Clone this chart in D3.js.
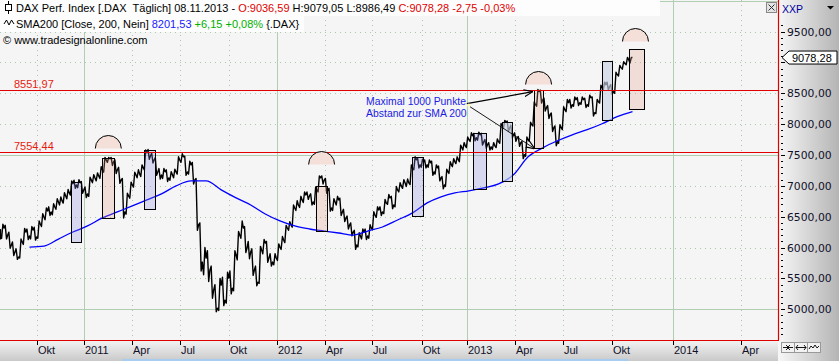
<!DOCTYPE html>
<html><head><meta charset="utf-8">
<script src="https://cdn.jsdelivr.net/npm/d3@7"></script>
<style>
html,body{margin:0;padding:0;background:#f5f5f5;overflow:hidden}
svg{display:block}
</style></head><body>
<svg id="c" width="839" height="361"></svg>
<script>
// ---------------- DATA ----------------
const firstWeek = "2010-07-23";           // weekly bars start (Fridays)
const closeValues = [
6203,6317,6203,6041,5927,5846,6090,6252,6187,6285,
6171,6382,6496,6593,6577,6658,6739,6756,6837,6885,
7032,7015,7048,6934,6869,7096,7129,7161,7259,7421,
7438,7389,7259,7096,6577,6837,7015,7178,7194,7291,
7535,7486,7421,7226,7178,7226,7129,7178,7226,7421,
7470,7226,7340,7096,6366,5765,5830,5635,5310,5018,
5391,5148,5505,5343,5879,6203,6317,5992,5927,5635,
5440,5960,6073,5830,5765,5830,6008,6122,6317,6366,
6642,6690,6772,6853,6837,6739,6934,7129,7096,6934,
6642,6739,6772,6577,6479,6366,6252,6041,6187,6252,
6187,6317,6528,6609,6577,6723,6804,6690,6934,6999,
7048,7048,7291,7421,7340,7389,7340,7373,7226,7291,
7129,7015,7226,7340,7389,7421,7616,7649,7746,7811,
7779,7827,7714,7665,7632,7649,7714,7973,8038,7941,
7827,7779,7697,7503,7746,7990,8315,8526,8396,8266,
8152,7941,7714,7941,8233,8347,8315,8396,8347,8396,
8315,8428,8185,8363,8591,8639,8607,8526,8802,8915,
8980,9045,9078.28
];
const highValues = [
6290,6380,6360,6250,6090,5980,6140,6310,6300,6340,
6330,6430,6550,6640,6660,6710,6790,6820,6890,6940,
7080,7090,7100,7070,6980,7140,7180,7210,7310,7460,
7460,7460,7420,7300,7120,6880,7060,7220,7260,7340,
7580,7590,7530,7460,7280,7280,7260,7230,7270,7470,
7520,7480,7400,7380,7120,6400,6000,5950,5700,5400,
5500,5520,5600,5620,5950,6260,6430,6340,6100,5980,
5700,6020,6130,6100,5900,5900,6060,6180,6360,6420,
6690,6760,6830,6900,6900,6870,6980,7160,7160,7120,
6960,6790,6830,6800,6620,6510,6400,6280,6240,6300,
6300,6370,6580,6660,6660,6780,6860,6830,6990,7050,
7100,7110,7340,7470,7450,7430,7420,7420,7400,7340,
7320,7150,7270,7390,7440,7470,7660,7700,7790,7860,
7850,7870,7850,7750,7700,7700,7760,8010,8060,8050,
7980,7860,7800,7720,7790,8030,8360,8560,8550,8420,
8300,8180,7970,7990,8280,8400,8400,8440,8430,8440,
8420,8470,8440,8400,8630,8680,8680,8640,8840,8950,
9010,9080,9079.05
];
const lowValues = [
6130,6150,6140,5990,5870,5810,5830,6050,6130,6140,
6120,6150,6340,6450,6520,6530,6620,6690,6720,6790,
6850,6960,6970,6880,6810,6830,7050,7080,7120,7220,
7380,7330,7200,7040,6480,6540,6800,6980,7130,7150,
7260,7430,7370,7170,7110,7120,7070,7090,7130,7190,
7380,7170,7190,7030,6280,5620,5560,5450,5180,4960,
4980,5060,5100,5250,5300,5800,6150,5920,5820,5550,
5380,5420,5900,5760,5700,5720,5790,5970,6080,6280,
6330,6600,6650,6730,6780,6690,6700,6900,7030,6880,
6590,6600,6690,6520,6420,6300,6190,5970,6010,6140,
6130,6150,6290,6490,6520,6550,6700,6630,6660,6900,
6960,6990,7020,7260,7290,7300,7290,7300,7170,7190,
7080,6950,6990,7200,7310,7360,7390,7580,7620,7720,
7730,7740,7660,7610,7580,7590,7620,7690,7940,7880,
7770,7720,7640,7440,7480,7720,7970,8290,8340,8210,
8090,7880,7650,7690,7910,8200,8260,8290,8300,8320,
8270,8290,8130,8170,8340,8560,8550,8480,8500,8780,
8890,8960,8986.49
];
const smaFirstWeek = 8, smaStepWeeks = 4;   // SMA200 sampled every 4 weeks
const smaValues = [
6008,6025,6138,6252,6350,6480,6577,6674,6772,6869,
6999,7080,7080,6934,6804,6690,6544,6431,6350,6301,
6268,6236,6203,6268,6333,6447,6561,6723,6821,6885,
6918,6967,7032,7178,7470,7616,7730,7827,7909,8006,
8120,8201.53
];
const boxStart  = ["2010-12-07","2011-02-04","2011-04-23","2012-03-14","2012-09-13","2013-01-12","2013-03-07","2013-05-07","2013-09-13","2013-11-02"];
const boxEnd    = ["2010-12-26","2011-02-25","2011-05-14","2012-04-04","2012-10-04","2013-02-05","2013-03-26","2013-05-24","2013-10-01","2013-11-23"];
const boxTop    = [7064,7454,7584,6994,7470,7860,8038,8558,9029,9224];
const boxBottom = [6090,6479,6625,6268,6512,6950,7080,7616,8071,8250];
const boxType   = ["lav","pink","lav","pink","lav","lav","grey","pink","grey","pink"];
const arcCenter = ["2011-02-15","2012-03-25","2013-05-16","2013-11-12"];
const arcBase   = [7616,7356,8656,9354];
const levelValues = [8551.97, 7554.44];
const levelLabels = ["8551,97", "7554,44"];
const yTicks = [5000,5500,6000,6500,7000,7500,8000,8500,9000,9500];
const xTickDates  = ["2010-10-01","2011-01-01","2011-04-01","2011-07-01","2011-10-01","2012-01-01","2012-04-01","2012-07-01","2012-10-01","2013-01-01","2013-04-01","2013-07-01","2013-10-01","2014-01-01","2014-04-01"];
const xTickLabels = ["Okt","2011","Apr","Jul","Okt","2012","Apr","Jul","Okt","2013","Apr","Jul","Okt","2014","Apr"];
const lastDate = "2013-11-08", lastClose = 9078.28;
const noteLines = ["Maximal 1000 Punkte", "Abstand zur SMA 200"];
const noteAnchor = ["2012-06-19", 8315];
const arrowFrom = [["2012-12-31", 8331], ["2013-01-06", 8282]];
const arrowTo   = [["2013-05-05", 8526], ["2013-05-09", 7600]];

// ---------------- SETUP ----------------
const W = 839, H = 361, PR = 778, PB = 340;
const P = d3.utcParse("%Y-%m-%d");
const svg = d3.select("#c");
const loc = d3.formatLocale({decimal:",", thousands:"", grouping:[3], currency:["",""]});
const f2 = loc.format(".2f");
const hf = "Liberation Sans, Arial, sans-serif";

const x = d3.scaleUtc()
  .domain([...xTickDates.slice(0,13), lastDate, ...xTickDates.slice(13)].map(P))
  .range([36.7,84.3,132.3,179.7,229.3,277.3,325.3,372.3,421.7,467.3,515,562.7,611.7,632.5,672.7,740.7]);
const y = d3.scaleLinear().domain([5000, 9500]).range([309.3, 31.5]);

const weekDate = i => d3.utcDay.offset(P(firstWeek), 7 * i);
const smaData = smaValues.map((v, i) => ({d: weekDate(smaFirstWeek + i * smaStepWeeks), v}));

// price path: within each week pass through the week's two extremes, then the close
const pricePts = [];
closeValues.forEach((c, i) => {
  const xi = x(weekDate(i));
  const prev = i ? closeValues[i - 1] : c;
  const first = c >= prev ? lowValues[i] : highValues[i];
  const second = c >= prev ? highValues[i] : lowValues[i];
  if (i) { pricePts.push([xi - 2.5, y(first)]); pricePts.push([xi - 1.2, y(second)]); }
  else { pricePts.push([xi, y(first)]); pricePts.push([xi, y(second)]); }
  pricePts.push([xi, y(c)]);
});

const defs = svg.append("defs");
const g1 = defs.append("linearGradient").attr("id","gr").attr("x1",0).attr("x2",1).attr("y1",0).attr("y2",0);
g1.append("stop").attr("offset","0").attr("stop-color","#f7f7f7");
g1.append("stop").attr("offset","1").attr("stop-color","#b4b4b4");
const g2 = defs.append("linearGradient").attr("id","gb").attr("x1",0).attr("x2",0).attr("y1",0).attr("y2",1);
g2.append("stop").attr("offset","0").attr("stop-color","#f4f4f4");
g2.append("stop").attr("offset","1").attr("stop-color","#c9c9c9");
defs.append("clipPath").attr("id","clip").append("rect").attr("x",0).attr("y",0).attr("width",PR).attr("height",PB);
const mk = defs.append("marker").attr("id","arr").attr("viewBox","0 0 10 10").attr("refX",10).attr("refY",5)
  .attr("markerWidth",9).attr("markerHeight",9).attr("markerUnits","userSpaceOnUse").attr("orient","auto");
mk.append("path").attr("d","M0,1 L10,5 L0,9").attr("fill","none").attr("stroke","#000").attr("stroke-width",1.3);

svg.append("rect").attr("width",W).attr("height",H).attr("fill","#f5f5f5");
const plot = svg.append("g").attr("clip-path","url(#clip)");

// grid
const yearTick = d => d.getUTCMonth() === 0;
xTickDates.map(P).forEach(d => {
  const xx = Math.round(x(d)) + 0.5;
  plot.append("line").attr("x1",xx).attr("x2",xx).attr("y1",0).attr("y2",PB)
    .attr("stroke", yearTick(d) ? "#b2ceb2" : "#adc6ad")
    .attr("stroke-dasharray", yearTick(d) ? null : "1,4");
});
d3.range(4500, 10001, 500).forEach(v => {
  const yy = Math.round(y(v)) + 0.5;
  const solid = v % 2500 === 0;
  plot.append("line").attr("x1",0).attr("x2",PR).attr("y1",yy).attr("y2",yy)
    .attr("stroke", solid ? "#b2ceb2" : "#adc6ad")
    .attr("stroke-dasharray", solid ? null : "1,4");
});

// price
plot.append("path").datum(pricePts)
  .attr("d", d3.line())
  .attr("fill","none").attr("stroke","#000").attr("stroke-width",1.4).attr("stroke-linejoin","round");
// sma
plot.append("path").datum(smaData)
  .attr("d", d3.line().curve(d3.curveMonotoneX).x(d => x(d.d)).y(d => y(d.v)))
  .attr("fill","none").attr("stroke","#0000ff").attr("stroke-width",1.3);

// boxes
const boxFill = {lav:["#8a8ae6",0.27], pink:["#e6977f",0.25], grey:["#c8d2e4",0.65]};
boxStart.forEach((s, i) => {
  const x0 = Math.round(x(P(s))) + 0.5, x1 = Math.round(x(P(boxEnd[i]))) + 0.5;
  const y0 = Math.round(y(boxTop[i])) + 0.5, y1 = Math.round(y(boxBottom[i])) + 0.5;
  plot.append("rect").attr("x",x0).attr("y",y0).attr("width",x1-x0).attr("height",y1-y0)
    .attr("fill",boxFill[boxType[i]][0]).attr("fill-opacity",boxFill[boxType[i]][1])
    .attr("stroke","#000").attr("stroke-width",1);
});

// level lines
levelValues.forEach((v, i) => {
  const yy = Math.round(y(v)) + 0.5;
  plot.append("line").attr("x1",0).attr("x2",PR).attr("y1",yy).attr("y2",yy).attr("stroke","#e00000").attr("stroke-width",1.2);
  plot.append("text").attr("x",14).attr("y",yy-3).text(levelLabels[i])
    .attr("font-family",hf).attr("font-size",11).attr("fill","#e81a10");
});

// arcs
const R = 13;
arcCenter.forEach((c, i) => {
  const cx = x(P(c)), by = Math.round(y(arcBase[i])) + 0.5;
  plot.append("path").attr("d",`M${cx-R},${by} A${R},${R} 0 0 1 ${cx+R},${by} Z`).attr("fill","#f5e0d9");
  plot.append("path").attr("d",`M${cx-R},${by} A${R},${R} 0 0 1 ${cx+R},${by}`).attr("fill","none").attr("stroke","#000").attr("stroke-width",1);
});

// annotation
arrowFrom.forEach((a, i) => {
  plot.append("line").attr("x1",x(P(a[0]))).attr("y1",y(a[1]))
    .attr("x2",x(P(arrowTo[i][0]))).attr("y2",y(arrowTo[i][1]))
    .attr("stroke","#000").attr("stroke-width", i === 0 ? 1.2 : 0.9).attr("marker-end","url(#arr)");
});
plot.append("circle").attr("cx",x(P(arrowFrom[0][0]))+2).attr("cy",y(arrowFrom[0][1])+1.5).attr("r",1.6).attr("fill","#fffbb0");
noteLines.forEach((t, i) => {
  plot.append("text").attr("x",x(P(noteAnchor[0]))).attr("y",y(noteAnchor[1]) + i*12.5).text(t)
    .attr("font-family",hf).attr("font-size",10.4).attr("fill","#1a1ae6");
});

// header
const hdr = svg.append("g").attr("font-family",hf).attr("font-size",11);
hdr.append("rect").attr("x",0).attr("y",0).attr("width",660).attr("height",16).attr("fill","#fdfdfd");
hdr.append("rect").attr("x",0).attr("y",16).attr("width",304).attr("height",16).attr("fill","#fdfdfd");
hdr.append("line").attr("x1",8.5).attr("x2",8.5).attr("y1",1).attr("y2",14).attr("stroke","#000");
hdr.append("rect").attr("x",5.5).attr("y",4.5).attr("width",6).attr("height",6).attr("fill","#fff").attr("stroke","#000");
const t1 = hdr.append("text").attr("x",16).attr("y",12);
[["DAX Perf. Index [.DAX  Täglich] 08.11.2013 - ","#000"],["O:9036,59","#e00000"],[" H:9079,05 L:8986,49 ","#000"],["C:9078,28 -2,75 -0,03%","#e00000"]]
  .forEach(p => t1.append("tspan").attr("fill",p[1]).attr("xml:space","preserve").text(p[0]));
hdr.append("path").attr("d","M4,24 L6.5,20 L9,25 L11.5,20 L14,24").attr("fill","none").attr("stroke","#000").attr("stroke-width",1);
const t2 = hdr.append("text").attr("x",16).attr("y",28);
[["SMA200 [Close, 200, Nein] ","#000"],["8201,53","#1a1aff"],[" +6,15 +0,08%","#00b000"],[" {.DAX}","#000"]]
  .forEach(p => t2.append("tspan").attr("fill",p[1]).text(p[0]));
hdr.append("text").attr("x",3).attr("y",44).text("© www.tradesignalonline.com").attr("fill","#000");

// panels
svg.append("rect").attr("x",PR).attr("y",0).attr("width",W-PR).attr("height",H).attr("fill","url(#gr)");
svg.append("rect").attr("x",0).attr("y",PB).attr("width",PR).attr("height",H-PB).attr("fill","url(#gb)");
svg.append("rect").attr("x",122).attr("y",359).attr("width",506).attr("height",2).attr("fill","#a6cdf0");
svg.append("line").attr("x1",PR+0.5).attr("x2",PR+0.5).attr("y1",0).attr("y2",PB).attr("stroke","#e00000").attr("stroke-width",1.2);
svg.append("line").attr("x1",0).attr("x2",PR+1).attr("y1",PB+0.5).attr("y2",PB+0.5).attr("stroke","#e00000").attr("stroke-width",1.2);

// y axis
const ya = svg.append("g");
d3.range(4500, 10001, 100).forEach(v => {
  const yy = Math.round(y(v)) + 0.5;
  if (yy < 20 || yy > PB - 2) return;
  const major = v % 500 === 0;
  ya.append("line").attr("x1",781).attr("x2", major ? 785 : 783).attr("y1",yy).attr("y2",yy).attr("stroke","#000");
});
yTicks.forEach(v => {
  if (Math.abs(y(v) - y(lastClose)) < 9) return; // hidden behind the last-price marker
  ya.append("text").attr("x",787).attr("y",y(v)+4).text(f2(v))
    .attr("font-family","DejaVu Sans, Verdana, sans-serif").attr("font-size",10.8).attr("fill","#10102a");
});
const ly = y(lastClose);
ya.append("path").attr("d",`M782,${ly} L789,${ly-6.5} L837,${ly-6.5} L837,${ly+6.5} L789,${ly+6.5} Z`)
  .attr("fill","#fff").attr("stroke","#000").attr("stroke-width",1);
ya.append("text").attr("x",792).attr("y",ly+4).text(f2(lastClose))
  .attr("font-family",hf).attr("font-size",11).attr("fill","#000");
ya.append("text").attr("x",782).attr("y",13).text("XXP").attr("font-family",hf).attr("font-size",10.5).attr("fill","#0000a0");
ya.append("path").attr("d","M827,6 L834,6 L830.5,9.5 Z").attr("fill","#000");
svg.append("rect").attr("x",766.5).attr("y",2.5).attr("width",10).attr("height",10).attr("fill","#e4e4e4").attr("stroke","#888");
svg.append("path").attr("d","M768.5,4.5 L774.5,10.5 M774.5,4.5 L768.5,10.5").attr("stroke","#333").attr("stroke-width",1);

// x axis
const xa = svg.append("g");
xTickDates.forEach((s, i) => {
  const xx = Math.round(x(P(s))) + 0.5;
  xa.append("line").attr("x1",xx).attr("x2",xx).attr("y1",341).attr("y2",345).attr("stroke","#000");
  xa.append("text").attr("x",xx+0.5).attr("y",354).text(xTickLabels[i])
    .attr("font-family",hf).attr("font-size",11).attr("fill","#10102a");
});
[781.5, 794.5, 807.5].forEach(bx => {
  svg.append("rect").attr("x",bx).attr("y",342.5).attr("width",13).attr("height",10).attr("fill","#f2f2f2").attr("stroke","#999");
});
svg.append("path").attr("d","M783,347.5 L793,347.5 M786,345 L788.5,347.5 L786,350 M790,345 L787.5,347.5 L790,350 M796,347.5 L806,347.5 M798,345 L796,347.5 L798,350 M804,345 L806,347.5 L804,350 M809,349 L811,346 L813,348 L815,345 L817,348 L819,346").attr("fill","none").attr("stroke","#000").attr("stroke-width",0.9);
</script>
</body></html>
